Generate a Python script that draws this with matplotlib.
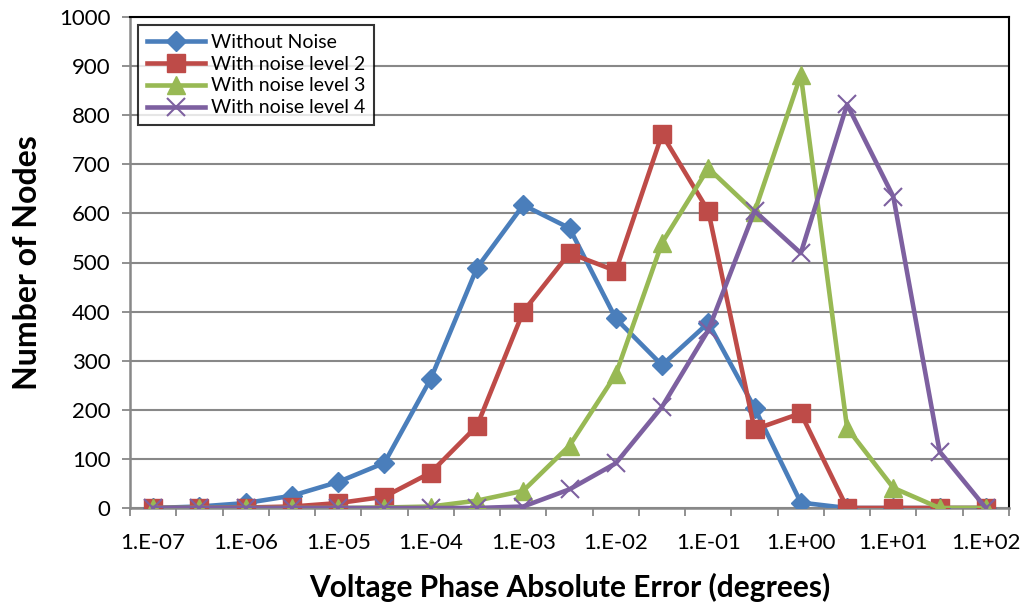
import matplotlib
matplotlib.use("Agg")
import matplotlib.pyplot as plt
from matplotlib.ticker import FixedLocator, NullFormatter

plt.rcParams['font.family'] = ['Lato', 'DejaVu Sans']

categories = ["1.E-07", "3.E-07", "1.E-06", "3.E-06", "1.E-05", "3.E-05", "1.E-04", "3.E-04",
              "1.E-03", "3.E-03", "1.E-02", "3.E-02", "1.E-01", "3.E-01", "1.E+00", "3.E+00",
              "1.E+01", "3.E+01", "1.E+02"]
without_noise = [0, 3, 10, 25, 53, 92, 263, 489, 617, 570, 386, 291, 377, 204, 11, 0, 0, 0, 0]
noise_level_2 = [0, 0, 1, 3, 10, 23, 72, 167, 400, 519, 483, 761, 605, 160, 193, 0, 0, 0, 0]
noise_level_3 = [0, 0, 0, 0, 0, 1, 3, 15, 35, 127, 272, 540, 692, 603, 882, 163, 41, 0, 0]
noise_level_4 = [0, 0, 0, 0, 0, 0, 0, 0, 3, 38, 91, 206, 362, 605, 519, 822, 634, 115, 0]
series_names = ["Without Noise", "With noise level 2", "With noise level 3", "With noise level 4"]
y_ticks = [0, 100, 200, 300, 400, 500, 600, 700, 800, 900, 1000]

fig = plt.figure(figsize=(10.27, 6.05), dpi=100)
ax = fig.add_axes([130/1027, 97/605, 879/1027, 491/605])

xs = list(range(len(categories)))
styles = [
    dict(color="#4A7EBB", marker="D", markersize=10),
    dict(color="#BE4B48", marker="s", markersize=13),
    dict(color="#98B954", marker="^", markersize=13),
    dict(color="#7D60A0", marker="x", markersize=13, markeredgewidth=1.5),
]
for data, name, st in zip([without_noise, noise_level_2, noise_level_3, noise_level_4], series_names, styles):
    ax.plot(xs, data, label=name, linewidth=3.3, color=st["color"], marker=st["marker"],
            markersize=st["markersize"], markerfacecolor=st["color"], markeredgecolor=st["color"],
            markeredgewidth=st.get("markeredgewidth", 1), zorder=3)

ax.set_xlim(-0.5, len(categories) - 0.5)
ax.set_ylim(0, 1000)
ax.set_yticks(y_ticks)
ax.yaxis.grid(True, color="#888888", linewidth=1.5)
ax.set_axisbelow(True)

# major ticks: labels at every other category, no tick marks
ax.set_xticks(xs[::2])
ax.set_xticklabels(categories[::2])
ax.tick_params(axis='x', which='major', length=0, pad=18, labelsize=16)
ax.xaxis.set_minor_locator(FixedLocator([i - 0.5 for i in range(len(categories) + 1)]))
ax.xaxis.set_minor_formatter(NullFormatter())
ax.tick_params(axis='x', which='minor', length=6, width=1.3, color="#888888", direction='out')
ax.tick_params(axis='y', length=6, width=1.3, color="#888888", labelsize=16, pad=8)

for side in ["left", "bottom"]:
    ax.spines[side].set_color("#888888")
    ax.spines[side].set_linewidth(1.8)
for side in ["top", "right"]:
    ax.spines[side].set_color("black")
    ax.spines[side].set_linewidth(1.5)

ax.set_ylabel("Number of Nodes", fontsize=23, fontweight="bold", labelpad=12)
ax.set_xlabel("Voltage Phase Absolute Error (degrees)", fontsize=21.5, fontweight="bold", labelpad=14)

leg = ax.legend(loc="upper left", bbox_to_anchor=(8/879, 1 - 8/491), borderaxespad=0,
                fontsize=14, frameon=True, fancybox=False, handlelength=3.0,
                labelspacing=0.25, borderpad=0.45, handletextpad=0.3)
leg.get_frame().set_edgecolor("black")
leg.get_frame().set_linewidth(1.5)

fig.savefig("out.png", dpi=100)
